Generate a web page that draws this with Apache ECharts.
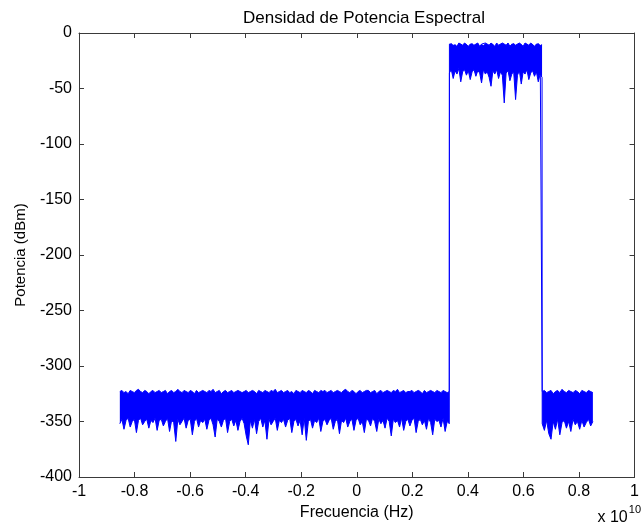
<!DOCTYPE html>
<html>
<head>
<meta charset="utf-8">
<script src="https://cdn.jsdelivr.net/npm/echarts@6/dist/echarts.min.js"></script>
<style>
  html, body { margin: 0; padding: 0; background: #fff; }
  #chart { width: 642px; height: 531px; }
</style>
</head>
<body>
<div id="chart"></div>
<script>
// frecuencia en unidades de 1e10 Hz: [inicio, fin] de cada tramo
const leftRange = [-0.853, 0.333]
const bandRange = [0.3335, 0.667]
const rightRange = [0.6675, 0.85]

// ruido de fondo, lado izquierdo (dBm): envolvente superior e inferior
const leftUpper = [
  -323,-322,-324,-323,-325,-322,-323,-324,-322,-321,-323,-324,-322,-323,-325,-323,-322,-324,-323,-322,
  -324,-323,-322,-325,-323,-322,-324,-323,-321,-323,-324,-322,-323,-324,-322,-323,-325,-322,-324,-323,
  -322,-323,-324,-322,-323,-321,-324,-323,-322,-325,-323,-322,-324,-323,-322,-324,-323,-322,-323,-324,
  -323,-322,-324,-323,-322,-323,-325,-322,-323,-324,-322,-323,-324,-322,-323,-321,-324,-323,-322,-324,
  -323,-322,-324,-323,-325,-322,-323,-324,-322,-323,-324,-322,-323,-325,-322,-323,-324,-322,-323,-322,
  -324,-323,-322,-324,-323,-322,-323,-324,-322,-321,-323,-324,-322,-323,-325,-323,-322,-324,-323,-322,
  -322,-324,-323,-322,-325,-323,-322,-324,-323,-322,-323,-324,-322,-323,-321,-324,-323,-322,-324,-323,
  -323,-322,-324,-323,-322,-323,-325,-322,-324,-323,-322,-323,-324,-322,-323,-324,-322,-323,-324,-323
]
const leftLower = [
  -352,-348,-357,-349,-347,-355,-350,-348,-360,-349,-347,-353,-350,-348,-356,-349,-351,-347,-358,-349,
  -348,-354,-350,-347,-359,-349,-351,-368,-348,-353,-350,-347,-356,-349,-348,-362,-350,-347,-355,-349,
  -351,-348,-357,-349,-347,-353,-364,-348,-350,-355,-349,-347,-360,-350,-348,-354,-349,-358,-350,-347,
  -352,-363,-371,-349,-356,-348,-361,-350,-347,-355,-349,-366,-348,-353,-350,-347,-358,-349,-351,-348,
  -355,-349,-347,-360,-350,-348,-354,-349,-362,-347,-367,-350,-348,-356,-349,-351,-347,-359,-350,-348,
  -353,-349,-347,-357,-350,-348,-361,-349,-351,-347,-355,-350,-348,-358,-349,-347,-353,-350,-360,-348,
  -349,-354,-347,-350,-359,-348,-352,-349,-356,-347,-350,-363,-348,-351,-349,-355,-347,-358,-350,-348,
  -354,-349,-347,-360,-350,-348,-353,-349,-357,-347,-351,-362,-348,-350,-349,-355,-347,-359,-350,-352
]

// banda de la senal
const bandUpper = [
  -10,-9,-11,-10,-12,-9,-10,-11,-9,-10,-12,-10,-9,-11,-10,-9,-12,-10,-11,-9,
  -10,-11,-9,-10,-12,-9,-11,-10,-9,-10,-11,-9,-12,-10,-9,-11,-10,-9,-10,-12,
  -9,-10,-11,-9,-10,-12,-10,-9,-11,-10
]
const bandLower = [
  -36,-33,-41,-34,-37,-32,-44,-35,-33,-38,-34,-42,-35,-33,-39,-34,-36,-45,-33,-37,
  -35,-40,-48,-34,-37,-33,-41,-35,-38,-63,-36,-34,-43,-37,-35,-60,-38,-34,-46,-35,
  -37,-33,-42,-36,-34,-39,-35,-44,-37,-40
]

// ruido de fondo, lado derecho
const rightUpper = [
  -323,-322,-324,-323,-322,-325,-323,-322,-324,-321,-323,-324,
  -322,-323,-324,-322,-323,-325,-322,-323,-324,-322,-323,-324
]
const rightLower = [
  -352,-358,-349,-361,-366,-350,-357,-348,-362,-351,-349,-356,
  -350,-359,-348,-353,-350,-357,-349,-355,-351,-348,-354,-350
]

const xTicks = ['-1', '-0.8', '-0.6', '-0.4', '-0.2', '0', '0.2', '0.4', '0.6', '0.8', '1']

// frecuencias de cada tramo, espaciadas de forma uniforme
function freqs(n, range) {
  const step = (range[1] - range[0]) / (n - 1)
  return Array.from({ length: n }, (_, i) => range[0] + i * step)
}

const fx = [
  ...freqs(leftUpper.length, leftRange),
  ...freqs(bandUpper.length, bandRange),
  ...freqs(rightUpper.length, rightRange)
]
const upper = [...leftUpper, ...bandUpper, ...rightUpper]
const lower = [...leftLower, ...bandLower, ...rightLower]

const upperData = fx.map((x, i) => [x, upper[i]])
const lowerData = fx.map((x, i) => [x, lower[i]])

const font = 'Liberation Sans, Arial, sans-serif'
const axisColor = '#3a3a3a'
const blue = '#0000ff'

const tick = { inside: true, length: 5, lineStyle: { color: axisColor } }

// relleno entre las dos envolventes
function renderBand(params, api) {
  const top = upperData.map(p => api.coord(p))
  const bottom = lowerData.map(p => api.coord(p)).reverse()
  return {
    type: 'polygon',
    shape: { points: top.concat(bottom) },
    style: { fill: blue, stroke: null }
  }
}

const chart = echarts.init(document.getElementById('chart'))
chart.setOption({
  animation: false,
  title: {
    text: 'Densidad de Potencia Espectral',
    left: 359,
    top: 5,
    textAlign: 'center',
    textStyle: { fontFamily: font, fontSize: 17, fontWeight: 'normal', color: '#000' }
  },
  grid: { left: 79, right: 4, top: 33, bottom: 54 },
  xAxis: [
    {
      type: 'value', min: -1, max: 1, interval: 0.2, z: 10,
      name: 'Frecuencia (Hz)', nameLocation: 'middle', nameGap: 28,
      nameTextStyle: { fontFamily: font, fontSize: 16, color: '#000' },
      axisLine: { onZero: false, lineStyle: { color: axisColor } },
      axisTick: tick,
      axisLabel: {
        fontFamily: font, fontSize: 16, color: '#000', margin: 7,
        formatter: v => xTicks[Math.round((v + 1) / 0.2)]
      },
      splitLine: { show: false }
    },
    {
      type: 'value', min: -1, max: 1, interval: 0.2, position: 'top', z: 10,
      axisLine: { onZero: false, lineStyle: { color: axisColor } },
      axisTick: tick,
      axisLabel: { show: false },
      splitLine: { show: false }
    }
  ],
  yAxis: [
    {
      type: 'value', min: -400, max: 0, interval: 50, z: 10,
      name: 'Potencia (dBm)', nameLocation: 'middle', nameGap: 51,
      nameTextStyle: { fontFamily: font, fontSize: 15, color: '#000' },
      axisLine: { show: true, onZero: false, lineStyle: { color: axisColor } },
      axisTick: Object.assign({ show: true }, tick),
      axisLabel: { fontFamily: font, fontSize: 16, color: '#000', margin: 7 },
      splitLine: { show: false }
    },
    {
      type: 'value', min: -400, max: 0, interval: 50, position: 'right', z: 10,
      axisLine: { show: true, onZero: false, lineStyle: { color: axisColor } },
      axisTick: Object.assign({ show: true }, tick),
      axisLabel: { show: false },
      splitLine: { show: false }
    }
  ],
  graphic: [
    {
      type: 'text', right: 1, top: 504,
      style: {
        text: '{b|x 10}{s|10}',
        rich: {
          b: { fontFamily: font, fontSize: 16, color: '#000', padding: [10, 1, 0, 0] },
          s: { fontFamily: font, fontSize: 11, color: '#000', padding: [0, 0, 7, 0] }
        }
      }
    }
  ],
  series: [
    {
      type: 'custom',
      data: [0],
      renderItem: renderBand,
      z: 2,
      silent: true
    },
    {
      type: 'line',
      data: upperData,
      showSymbol: false,
      sampling: false,
      z: 3,
      lineStyle: { color: blue, width: 1 },
      itemStyle: { color: blue }
    },
    {
      type: 'line',
      data: lowerData,
      showSymbol: false,
      sampling: false,
      z: 3,
      lineStyle: { color: blue, width: 1 },
      itemStyle: { color: blue }
    }
  ]
})
</script>
</body>
</html>
